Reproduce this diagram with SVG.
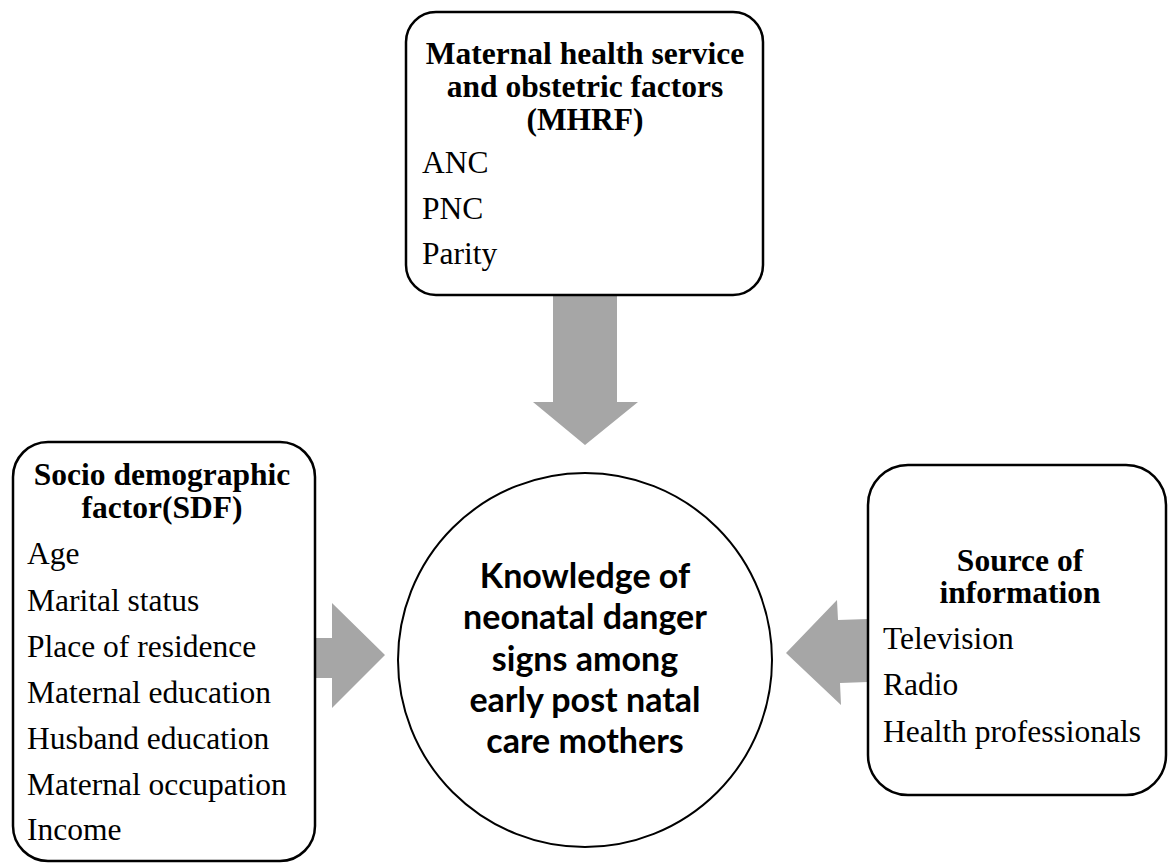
<svg xmlns="http://www.w3.org/2000/svg" width="1168" height="863" viewBox="0 0 1168 863">
<style>
.box{fill:#fff;stroke:#000;stroke-width:2.5}
.arr{fill:#a6a6a6;stroke:none}
.t{font-family:"Liberation Serif","Times New Roman",serif;font-size:31.5px;fill:#000}
.h{font-family:"Liberation Serif","Times New Roman",serif;font-size:31.5px;font-weight:bold;fill:#000;text-anchor:middle}
.c{font-family:Lato,"Open Sans",sans-serif;font-size:34px;font-weight:bold;fill:#000;text-anchor:middle}
</style>
<rect width="1168" height="863" fill="#fff"/>
<g id="connectors">
<polygon class="arr" points="553,296 617,296 617,402 638,402 585,445 533,402 553,402"/>
<polygon class="arr" points="315,638 332,638 332,603 385,655 332,708 332,678 315,678"/>
<polygon class="arr" points="868,619 838,620 837,600 786,653 841,705 840,683 868,682"/>
</g>
<g id="mhrf">
<rect class="box" x="406" y="12" width="357" height="283" rx="30"/>
<text class="h" x="585" y="64">Maternal health service</text>
<text class="h" x="585" y="97">and obstetric factors</text>
<text class="h" x="585" y="130">(MHRF)</text>
<text class="t" x="422" y="173">ANC</text>
<text class="t" x="422" y="219">PNC</text>
<text class="t" x="422" y="264">Parity</text>
</g>
<g id="sdf">
<rect class="box" x="13" y="442" width="302" height="419" rx="35"/>
<text class="h" x="162" y="485">Socio demographic</text>
<text class="h" x="162" y="518">factor(SDF)</text>
<text class="t" x="27" y="564">Age</text>
<text class="t" x="27" y="611">Marital status</text>
<text class="t" x="27" y="657">Place of residence</text>
<text class="t" x="27" y="703">Maternal education</text>
<text class="t" x="27" y="749">Husband education</text>
<text class="t" x="27" y="795">Maternal occupation</text>
<text class="t" x="27" y="840">Income</text>
</g>
<g id="soi">
<rect class="box" x="868" y="465" width="298" height="330" rx="40"/>
<text class="h" x="1020" y="571">Source of</text>
<text class="h" x="1020" y="603">information</text>
<text class="t" x="883" y="649">Television</text>
<text class="t" x="883" y="695">Radio</text>
<text class="t" x="883" y="742">Health professionals</text>
</g>
<g id="knowledge">
<circle cx="585" cy="660" r="187" fill="#fff" stroke="#000" stroke-width="2"/>
<text class="c" x="585" y="588">Knowledge of</text>
<text class="c" x="585" y="629">neonatal danger</text>
<text class="c" x="585" y="671">signs among</text>
<text class="c" x="585" y="712">early post natal</text>
<text class="c" x="585" y="753">care mothers</text>
</g>
</svg>
